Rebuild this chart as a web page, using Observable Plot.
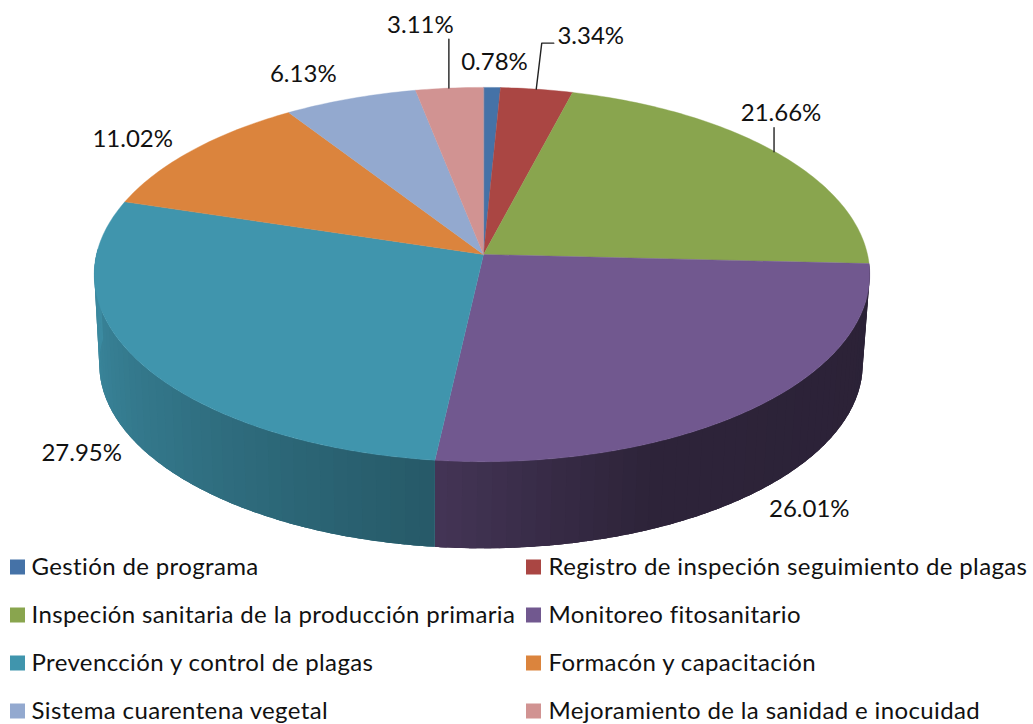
<!DOCTYPE html>
<html>
<head>
<meta charset="utf-8">
<script src="https://cdn.jsdelivr.net/npm/d3@7"></script>
<script src="https://cdn.jsdelivr.net/npm/@observablehq/plot@0.6"></script>
<style>html,body{margin:0;padding:0;background:#fff}svg{display:block}</style>
</head>
<body>
<div id="chart"></div>
<script>
const categories = ["Gestión de programa","Registro de inspeción seguimiento de plagas","Inspeción sanitaria de la producción primaria","Monitoreo fitosanitario","Prevencción y control de plagas","Formacón y capacitación","Sistema cuarentena vegetal","Mejoramiento de la sanidad e inocuidad"];
const shares = [0.78,3.34,21.66,26.01,27.95,11.02,6.13,3.11];
const colors = ["#4572a7","#aa4643","#89a54e","#71588f","#4095ad","#db843d","#93a9cf","#d19392"];

// Layout of the perspective pie (pixels)
const top3d = {cx:483, cy:254, aL:387, aR:384, b:185, p:0.107};
const bot3d = {cx:482, cy:344, aL:381, aR:378, b:182, p:0.107};
const labelOffset = [[2.5,-25],[54,-53],[6,-38],[55,101.5],[-58,91],[-60,-11],[-47,-24],[-29,-63]];
const leaders = {1:[[-0.5,0],[5,-46],[17,-46]], 2:[[-1,0],[-1,-24]], 7:[[-0.5,0],[-0.5,-49]]};
const FONT = "Lato";

const project = (g, deg) => {
  const t = deg * Math.PI / 180, u = Math.sin(t), v = Math.cos(t), w = 1 + g.p * v;
  return {x: g.cx + (u < 0 ? g.aL : g.aR) * u / w, y: g.cy - g.b * v / w};
};

let cum = 0;
const slices = shares.map((s, i) => {
  const start = cum * 3.6; cum += s;
  const end = cum * 3.6;
  return {i, start, end, mid: (start + end) / 2, color: colors[i], label: s.toFixed(2) + "%"};
});

// Top face polygons
const facePts = slices.flatMap(s => {
  const n = Math.max(2, Math.ceil(s.end - s.start));
  const pts = [{id: s.i, color: s.color, x: top3d.cx, y: top3d.cy}];
  for (let k = 0; k <= n; k++) {
    const p = project(top3d, s.start + (s.end - s.start) * k / n);
    pts.push({id: s.i, color: s.color, ...p});
  }
  return pts;
});

// Wall: a base silhouette per slice, then bands shaded by angle
const shade = d3.scaleLinear().domain([92,157,170,186.4,230,270]).range([.38,.40,.48,.60,.78,.93]).clamp(true);
const tint = (hex, f) => { const c = d3.rgb(hex); return d3.rgb(c.r * f, c.g * f, c.b * f).formatHex(); };
const wallEnd = 272, bandStep = 2;
const wallPts = [];
let sid = 0;
const addQuad = (a, b, color) => {
  const n = Math.max(1, Math.ceil(b - a));
  const tops = d3.range(n + 1).map(k => project(top3d, a + (b - a) * k / n));
  const bots = d3.range(n + 1).map(k => project(bot3d, a + (b - a) * k / n)).reverse();
  [...tops, ...bots].forEach(p => wallPts.push({id: sid, color, ...p}));
  sid++;
};
slices.filter(s => s.i === 3 || s.i === 4).forEach(s => {
  const end = Math.min(s.end, wallEnd);
  addQuad(s.start, end, tint(s.color, shade((s.start + end) / 2)));
  for (let d = s.start; d < end; d += bandStep) {
    addQuad(d, Math.min(d + bandStep + 1, end), tint(s.color, shade(d + bandStep / 2)));
  }
});

// Data labels and leaders
const labels = slices.map(s => {
  const e = project(top3d, s.mid);
  return {x: e.x + labelOffset[s.i][0], y: e.y + labelOffset[s.i][1], text: s.label};
});
const leaderPts = Object.entries(leaders).flatMap(([i, off]) => {
  const e = project(top3d, slices[+i].mid);
  return off.map(o => ({id: +i, x: e.x + o[0], y: e.y + o[1]}));
});

// Legend
const legendX = [10, 526], legendTextX = [31, 548], legendY = [567, 615, 663, 711];
const legend = categories.map((name, i) => ({
  name, color: colors[i],
  col: i % 2, row: Math.floor(i / 2)
}));

const plot = Plot.plot({
  width: 1033, height: 724,
  margin: 0,
  x: {domain: [0, 1033], range: [0, 1033], axis: null},
  y: {domain: [0, 724], range: [0, 724], axis: null},
  style: {background: "#fff", fontFamily: FONT},
  marks: [
    Plot.line(wallPts, {x: "x", y: "y", z: "id", fill: "color", stroke: null, curve: "linear-closed"}),
    Plot.line(facePts, {x: "x", y: "y", z: "id", fill: "color", stroke: "color", strokeWidth: 0.4, curve: "linear-closed"}),
    Plot.line(leaderPts, {x: "x", y: "y", z: "id", stroke: "#222", strokeWidth: 1.4, curve: "linear"}),
    Plot.text(labels, {x: "x", y: "y", text: "text", fontSize: 24, fill: "#111", fontFamily: FONT, textAnchor: "middle", lineAnchor: "middle"}),
    Plot.rect(legend, {x1: d => legendX[d.col], x2: d => legendX[d.col] + 15, y1: d => legendY[d.row] - 7.5, y2: d => legendY[d.row] + 7.5, fill: "color"}),
    Plot.text(legend, {x: d => legendTextX[d.col], y: d => legendY[d.row], text: "name", fontSize: 24, fill: "#111", fontFamily: FONT, textAnchor: "start", lineAnchor: "middle"})
  ]
});
const textGroups = plot.querySelectorAll('g[aria-label="text"]');
textGroups[textGroups.length - 1].style.letterSpacing = "0.37px";
document.getElementById("chart").appendChild(plot);
</script>
</body>
</html>
